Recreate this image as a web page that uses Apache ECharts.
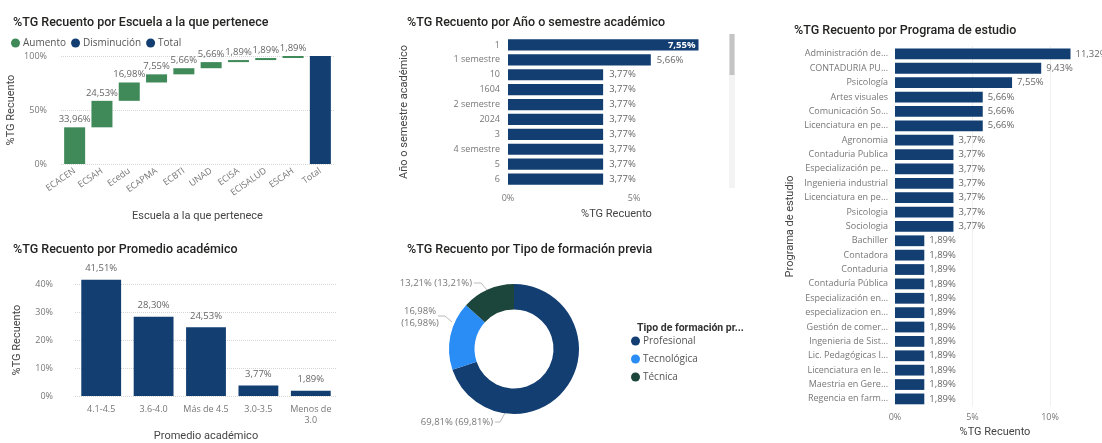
<!DOCTYPE html>
<html>
<head>
<meta charset="utf-8">
<script src="https://cdn.jsdelivr.net/npm/echarts@6/dist/echarts.min.js"></script>
<style>html,body{margin:0;padding:0;background:#fff}#c{width:1102px;height:443px}</style>
</head>
<body>
<div id="c"></div>
<script>
// ---- Data ----
const schoolCats = ['ECACEN','ECSAH','Ecedu','ECAPMA','ECBTI','UNAD','ECISA','ECISALUD','ESCAH','Total'];
const schoolValues = [33.96,24.53,16.98,7.55,5.66,5.66,1.89,1.89,1.89];
const schoolTotal = 100;

const yearCats = ['1','1 semestre','10','1604','2 semestre','2024','3','4 semestre','5','6'];
const yearValues = [7.55,5.66,3.77,3.77,3.77,3.77,3.77,3.77,3.77,3.77];

const avgCats = ['4.1-4.5','3.6-4.0','Más de 4.5','3.0-3.5','Menos de\n3.0'];
const avgValues = [41.51,28.30,24.53,3.77,1.89];

const prevCats = ['Profesional','Tecnológica','Técnica'];
const prevValues = [69.81,16.98,13.21];

const progCats = ['Administración de...','CONTADURIA PU...','Psicología','Artes visuales','Comunicación So...','Licenciatura en pe...','Agronomia','Contaduria Publica','Especialización pe...','Ingenieria industrial','Licenciatura en pe...','Psicologia','Sociologia','Bachiller','Contadora','Contaduria','Contaduría Pública','Especialización en...','especializacion en...','Gestión de comer...','Ingenieria de Sist...','Lic. Pedagógicas I...','Licenciatura en le...','Maestria en Gere...','Regencia en farm...'];
const progValues = [11.32,9.43,7.55,5.66,5.66,5.66,3.77,3.77,3.77,3.77,3.77,3.77,3.77,1.89,1.89,1.89,1.89,1.89,1.89,1.89,1.89,1.89,1.89,1.89,1.89];
const progGridTicks = [5, 10];

// ---- Styles ----
const DARK = '#123e72', GREEN = '#408a5a', BRIGHT = '#2a8cf5', DGREEN = '#1c463c';
const LBL = '#777', DLBL = '#666', TITLE = '#252423';
const FONT = 'Open Sans';
const TFONT = 'Roboto';
const fmt = v => v.toFixed(2).replace('.', ',') + '%';
const pct = v => v + '%';

// waterfall helpers derived from data
const base = [];
let acc = 0;
schoolValues.forEach(v => { base.push(acc); acc += v; });
base.push(0);
const incData = schoolValues.concat(['-']);
const totData = schoolValues.map(() => '-').concat([schoolTotal]);

const W = 1102, H = 443;
const axisLbl = {color: LBL, fontSize: 9, fontFamily: FONT};
const nameStyle = {color: '#444', fontSize: 11, fontFamily: TFONT};
const dotted = {show: true, lineStyle: {type: 'dotted', color: '#d6d6d6'}};
const titleStyle = {fontSize: 12.5, fontWeight: 500, color: TITLE, fontFamily: TFONT};

const option = {
  animation: false,
  textStyle: {fontFamily: FONT},
  title: [
    {text: '%TG Recuento por Escuela a la que pertenece', left: 8, top: 11, textStyle: titleStyle},
    {text: '%TG Recuento por Año o semestre académico', left: 402, top: 11, textStyle: titleStyle},
    {text: '%TG Recuento por Programa de estudio', left: 789, top: 19, textStyle: titleStyle},
    {text: '%TG Recuento por Promedio académico', left: 8, top: 238, textStyle: titleStyle},
    {text: '%TG Recuento por Tipo de formación previa', left: 402, top: 238, textStyle: titleStyle},
    {text: 'Tipo de formación pr...', left: 632, top: 318, textStyle: {fontSize: 10.5, fontWeight: 'bold', color: '#333', fontFamily: TFONT}}
  ],
  legend: [
    {data: ['Aumento','Disminución','Total'], left: 6, top: 33, icon: 'circle', itemWidth: 9, itemHeight: 9, itemGap: 5,
     textStyle: {color: '#555', fontSize: 10, fontFamily: FONT, padding: [0,0,0,-2]}},
    {data: prevCats, left: 626, top: 331, orient: 'vertical', icon: 'circle', itemWidth: 9, itemHeight: 9, itemGap: 8,
     textStyle: {color: '#555', fontSize: 10, fontFamily: FONT, padding: [0,0,0,-2]}}
  ],
  grid: [
    {left: 61, right: W - 334, top: 56, bottom: H - 164},
    {left: 508, right: W - 725, top: 37.5, bottom: H - 186.5},
    {left: 75, right: W - 337, top: 284, bottom: H - 401},
    {left: 895, right: W - 1095, top: 46.7, bottom: H - 413.3}
  ],
  xAxis: [
    {gridIndex: 0, type: 'category', data: schoolCats, axisLine: {show: false}, axisTick: {show: false},
     axisLabel: Object.assign({}, axisLbl, {rotate: 35, margin: 6, interval: 0}),
     name: 'Escuela a la que pertenece', nameLocation: 'middle', nameGap: 47, nameTextStyle: nameStyle},
    {gridIndex: 1, type: 'value', min: 0, max: 8.6, interval: 5, axisLine: {show: false}, axisTick: {show: false}, splitLine: {show: false},
     axisLabel: Object.assign({}, axisLbl, {formatter: pct, showMaxLabel: false, margin: 7}),
     name: '%TG Recuento', nameLocation: 'middle', nameGap: 22, nameTextStyle: nameStyle},
    {gridIndex: 2, type: 'category', data: avgCats, axisLine: {show: false}, axisTick: {show: false},
     axisLabel: Object.assign({}, axisLbl, {margin: 8, interval: 0, lineHeight: 11}),
     name: 'Promedio académico', nameLocation: 'middle', nameGap: 35, nameTextStyle: nameStyle},
    {gridIndex: 3, type: 'value', min: 0, max: 12.9, interval: 5, axisLine: {show: false}, axisTick: {show: false}, splitLine: {show: false},
     axisLabel: Object.assign({}, axisLbl, {formatter: pct, showMaxLabel: false, margin: 7}),
     name: '%TG Recuento', nameLocation: 'middle', nameGap: 20, nameTextStyle: nameStyle}
  ],
  yAxis: [
    {gridIndex: 0, type: 'value', min: 0, max: 100, interval: 50, axisLine: {show: false}, axisTick: {show: false}, splitLine: dotted,
     axisLabel: Object.assign({}, axisLbl, {formatter: pct, margin: 14}),
     name: '%TG Recuento', nameLocation: 'middle', nameGap: 44, nameTextStyle: nameStyle},
    {gridIndex: 1, type: 'category', data: yearCats, inverse: true, axisLine: {show: false}, axisTick: {show: false},
     axisLabel: Object.assign({}, axisLbl, {margin: 8, interval: 0}),
     name: 'Año o semestre académico', nameLocation: 'middle', nameGap: 98, nameTextStyle: nameStyle},
    {gridIndex: 2, type: 'value', min: 0, max: 40, interval: 10, axisLine: {show: false}, axisTick: {show: false}, splitLine: dotted,
     axisLabel: Object.assign({}, axisLbl, {formatter: pct, margin: 22}),
     name: '%TG Recuento', nameLocation: 'middle', nameGap: 52, nameTextStyle: nameStyle},
    {gridIndex: 3, type: 'category', data: progCats, inverse: true, axisLine: {show: false}, axisTick: {show: false},
     axisLabel: Object.assign({}, axisLbl, {margin: 7, interval: 0}),
     name: 'Programa de estudio', nameLocation: 'middle', nameGap: 99, nameTextStyle: nameStyle}
  ],
  series: [
    {type: 'bar', xAxisIndex: 0, yAxisIndex: 0, stack: 'w', data: base, itemStyle: {color: 'transparent'}, silent: true, barCategoryGap: '23%'},
    {name: 'Aumento', type: 'bar', xAxisIndex: 0, yAxisIndex: 0, stack: 'w', data: incData, itemStyle: {color: GREEN},
     label: {show: true, position: 'top', formatter: p => fmt(p.value), color: DLBL, fontSize: 9.5, distance: 3}},
    {name: 'Disminución', type: 'bar', xAxisIndex: 0, yAxisIndex: 0, stack: 'w', data: [], itemStyle: {color: DARK}},
    {name: 'Total', type: 'bar', xAxisIndex: 0, yAxisIndex: 0, stack: 'w', data: totData, itemStyle: {color: DARK}},

    {type: 'bar', xAxisIndex: 1, yAxisIndex: 1, barCategoryGap: '25%', itemStyle: {color: DARK},
     data: yearValues.map((v, i) => i === 0 ? {value: v, label: {position: 'insideRight', color: '#fff', fontWeight: 'bold', distance: 3}} : v),
     label: {show: true, position: 'right', formatter: p => fmt(p.value), color: DLBL, fontSize: 9.5, distance: 6}},

    {type: 'bar', xAxisIndex: 2, yAxisIndex: 2, barCategoryGap: '24%', clip: false, itemStyle: {color: DARK}, data: avgValues,
     label: {show: true, position: 'top', formatter: p => fmt(p.value), color: DLBL, fontSize: 9.5, distance: 6}},

    // background gridlines for programme chart (behind bars)
    {type: 'line', xAxisIndex: 3, yAxisIndex: 3, data: [], z: 0, silent: true,
     markLine: {z: 0, silent: true, symbol: 'none', label: {show: false}, lineStyle: {type: 'dotted', color: '#e2e2e2', width: 1},
       data: progGridTicks.map(t => ({xAxis: t}))}},
    {type: 'bar', xAxisIndex: 3, yAxisIndex: 3, barCategoryGap: '25%', itemStyle: {color: DARK}, data: progValues, z: 3,
     label: {show: true, position: 'right', formatter: p => fmt(p.value), color: DLBL, fontSize: 9.5, distance: 5}},

    {type: 'pie', center: [514, 349], radius: [39.5, 65], startAngle: 90, clockwise: true,
     data: prevCats.map((n, i) => ({name: n, value: prevValues[i]})),
     color: [DARK, BRIGHT, DGREEN],
     label: {show: true, color: LBL, fontSize: 9.5, lineHeight: 12,
       formatter: p => p.dataIndex === 1 ? fmt(p.value) + '\n(' + fmt(p.value) + ')' : fmt(p.value) + ' (' + fmt(p.value) + ')'},
     labelLine: {lineStyle: {color: '#bbb'}, length: 8, length2: 8},
     labelLayout: function (p) {
       const lay = [
         {x: 493, y: 422, align: 'right', verticalAlign: 'middle', labelLinePoints: [[505, 413], [500, 422], [495, 422]]},
         {x: 420, y: 317, align: 'center', verticalAlign: 'middle', labelLinePoints: [[452, 322], [445, 316], [438, 316]]},
         {x: 472, y: 283, align: 'right', verticalAlign: 'middle', labelLinePoints: [[487, 290], [481, 283], [474, 283]]}
       ];
       return lay[p.dataIndex];
     }}
  ],
  graphic: [
    {type: 'rect', shape: {x: 729, y: 34, width: 6, height: 154}, style: {fill: '#f3f3f3'}},
    {type: 'rect', shape: {x: 729.5, y: 34, width: 5, height: 41}, style: {fill: '#c4c4c4'}}
  ]
};

const chart = echarts.init(document.getElementById('c'), null, {renderer: 'canvas'});
chart.setOption(option);
</script>
</body>
</html>
